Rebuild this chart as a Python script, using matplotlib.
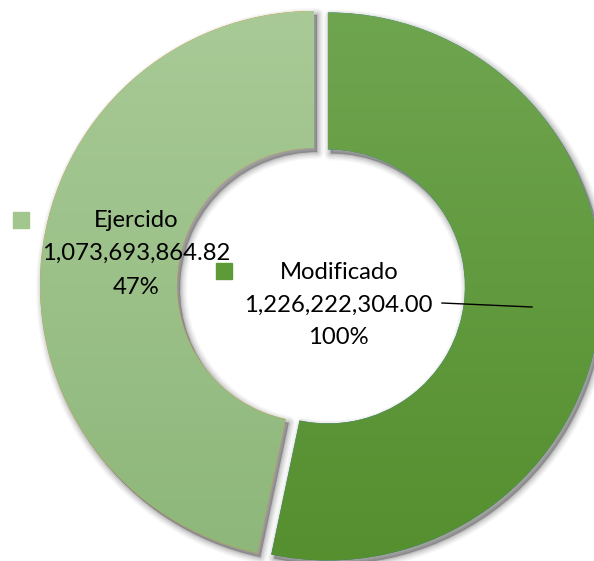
import numpy as np
import matplotlib
matplotlib.use("Agg")
import matplotlib.pyplot as plt
from matplotlib.patches import Rectangle, PathPatch
from matplotlib.transforms import Affine2D

plt.rcParams['font.family'] = ['Lato', 'DejaVu Sans']

# Data
categories = ["Modificado", "Ejercido"]
values = [1226222304.00, 1073693864.82]
pct_labels = ["100%", "47%"]
value_labels = ["1,226,222,304.00", "1,073,693,864.82"]

# Gradient colours (top, bottom) per slice
grad_top = ["#70A651", "#AACB98"]
grad_bot = ["#548E2D", "#8CB679"]
key_colors = ["#5E9A38", "#A2C78E"]

W, H = 594, 561
fig = plt.figure(figsize=(W / 100, H / 100), dpi=100)
ax = fig.add_axes([0, 0, 1, 1])

cx, cy = 314, H - 285
R = 274
hole = 137

wedges, _ = ax.pie(values, radius=R, center=(cx, cy), startangle=90,
                   counterclock=False, explode=[14, 0], frame=True,
                   wedgeprops=dict(width=R - hole, linewidth=0))

def hex2rgb(h):
    return np.array([int(h[i:i + 2], 16) for i in (1, 3, 5)]) / 255.0

for i, w in enumerate(wedges):
    w.set_zorder(3)
    # soft drop shadow
    path = w.get_path()
    for lw, a in [(10, 0.04), (8, 0.05), (6, 0.07), (4, 0.09), (2, 0.12), (0.5, 0.12)]:
        sh = PathPatch(path, transform=Affine2D().translate(3, -4) + ax.transData,
                       facecolor="#444444", edgecolor="#444444", lw=lw,
                       alpha=a, zorder=1, joinstyle="round")
        ax.add_patch(sh)
    # vertical gradient fill clipped to the wedge
    c0, c1 = hex2rgb(grad_top[i]), hex2rgb(grad_bot[i])
    t = np.linspace(0, 1, 256)[:, None, None]
    img = c0 * (1 - t) + c1 * t
    im = ax.imshow(img, extent=(cx - R - 30, cx + R + 30, cy - R - 30, cy + R + 30),
                   origin="upper", aspect="auto", zorder=4, interpolation="bilinear")
    im.set_clip_path(w)

ax.set_xlim(0, W)
ax.set_ylim(0, H)
ax.axis("off")

fs = 17.2
# Ejercido label
ax.add_patch(Rectangle((13, H - 228), 16, 16, color=key_colors[1], zorder=6))
ax.text(136, H - 220, categories[1], ha="center", va="center", fontsize=fs, zorder=7)
ax.text(136, H - 253, value_labels[1], ha="center", va="center", fontsize=fs, zorder=7)
ax.text(136, H - 287, pct_labels[1], ha="center", va="center", fontsize=fs, zorder=7)

# Modificado label
ax.add_patch(Rectangle((216, H - 279), 16, 16, color=key_colors[0], zorder=6))
ax.text(339, H - 272, categories[0], ha="center", va="center", fontsize=fs, zorder=7)
ax.text(338, H - 305, value_labels[0], ha="center", va="center", fontsize=fs, zorder=7)
ax.text(338, H - 338, pct_labels[0], ha="center", va="center", fontsize=fs, zorder=7)
ax.plot([442, 532], [H - 303, H - 307], color="black", lw=1, zorder=7)

fig.savefig("out.png", dpi=100)
